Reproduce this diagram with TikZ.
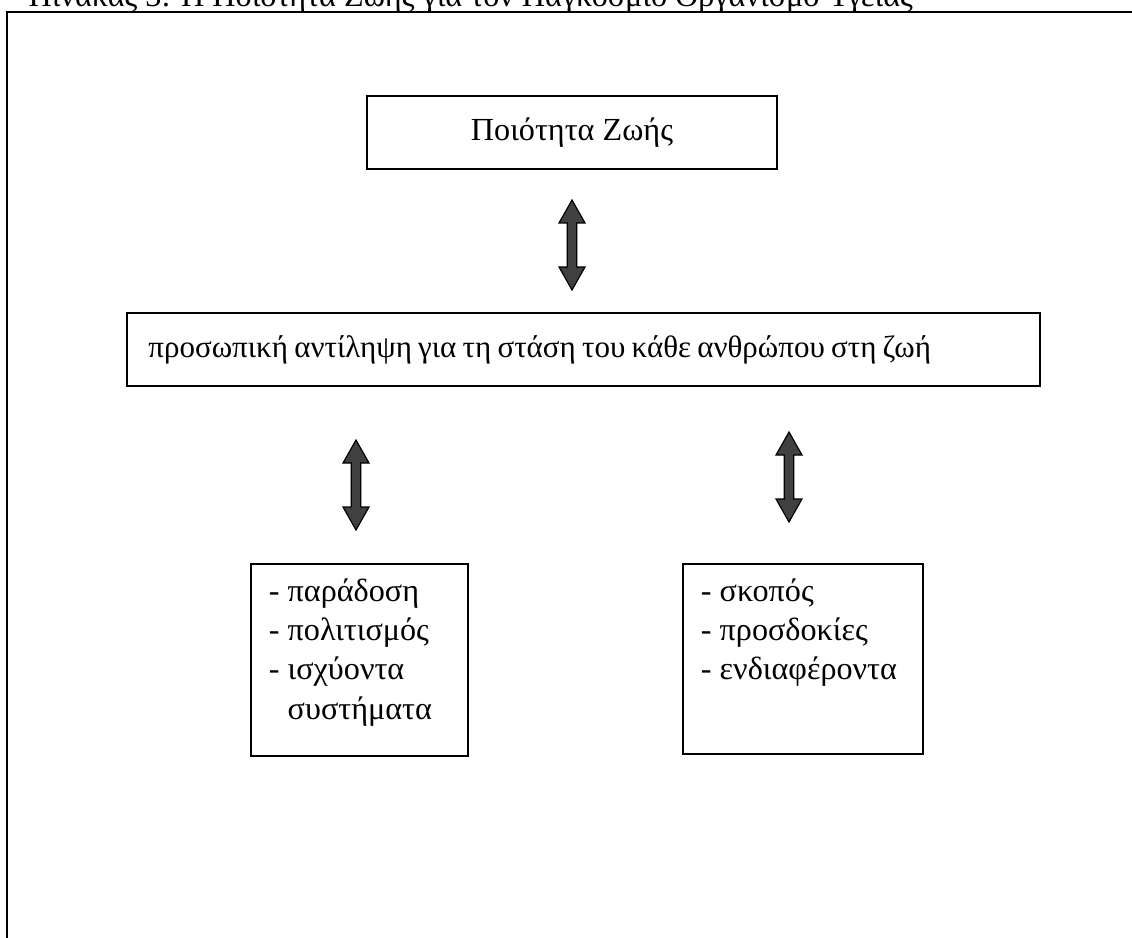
\documentclass[tikz,border=0pt]{standalone}
\usepackage{fontspec}
\setmainfont{Liberation Serif}
\definecolor{arrowgray}{RGB}{64,64,64}
\tikzset{
  frameline/.style={line width=0.7pt},
  box/.style={draw, line width=0.7pt, fill=white},
  arrowbody/.style={draw=black, line width=0.4pt, fill=arrowgray},
  dblarrow/.pic={\draw[arrowbody] (0,-45) -- (13,-22) -- (4.7,-22) -- (4.7,22) -- (13,22) -- (0,45)
      -- (-13,22) -- (-4.7,22) -- (-4.7,-22) -- (-13,-22) -- cycle;}
}
\begin{document}
\begin{tikzpicture}[x=0.345pt,y=-0.345pt,font=\fontsize{11.1pt}{13.6pt}\selectfont]
\useasboundingbox (0,0) rectangle (1132,938);
\fill[white] (0,0) rectangle (1132,938);
% outer frame
\coordinate (fbl) at (7,938);
\coordinate (ftl) at (7,12);
\coordinate (ftr) at (1132,12);
\draw[frameline] (fbl) -- (ftl) -- (ftr);
% caption (cut by the page edge)
\node[anchor=base west, inner sep=0pt] (title) at (28,7)
  {Πίνακας 3: Η Ποιότητα Ζωής για τον Παγκόσμιο Οργανισμό Υγείας};
% top box
\node[box, minimum width=141.45pt, minimum height=25.2pt, inner sep=0pt] (q) at (572,132.5) {Ποιότητα Ζωής};
% middle box
\node[box, inner xsep=7.4pt, inner ysep=0pt, minimum height=25.2pt, text width=300.2pt, align=left,
      font=\fontsize{10.7pt}{13.6pt}\selectfont] (p) at (583.5,349.5)
  {\spaceskip=0.8\fontdimen2\font plus 0.5\fontdimen3\font minus 0.5\fontdimen4\font
   προσωπική αντίληψη για τη στάση του κάθε ανθρώπου στη ζωή};
% lower boxes
\node[box, anchor=north west, inner sep=0pt] (l) at (250,563)
  {\parbox[b][66.24pt][t]{74.9pt}{\leftskip=6.2pt\rightskip=0pt plus 1fil\parindent=0pt
   \rule{0pt}{12.8pt}- παράδοση\\- πολιτισμός\\- ισχύοντα\\\hphantom{- }συστήματα}};
\node[box, anchor=north west, inner sep=0pt] (r) at (682,563)
  {\parbox[b][65.55pt][t]{82.8pt}{\leftskip=6.2pt\rightskip=0pt plus 1fil\parindent=0pt
   \rule{0pt}{12.8pt}- σκοπός\\- προσδοκίες\\- ενδιαφέροντα}};
% block arrows
\pic (a1) at (572,245) {dblarrow};
\pic (a2) at (356,485) {dblarrow};
\pic (a3) at (789,477) {dblarrow};
\end{tikzpicture}
\end{document}
